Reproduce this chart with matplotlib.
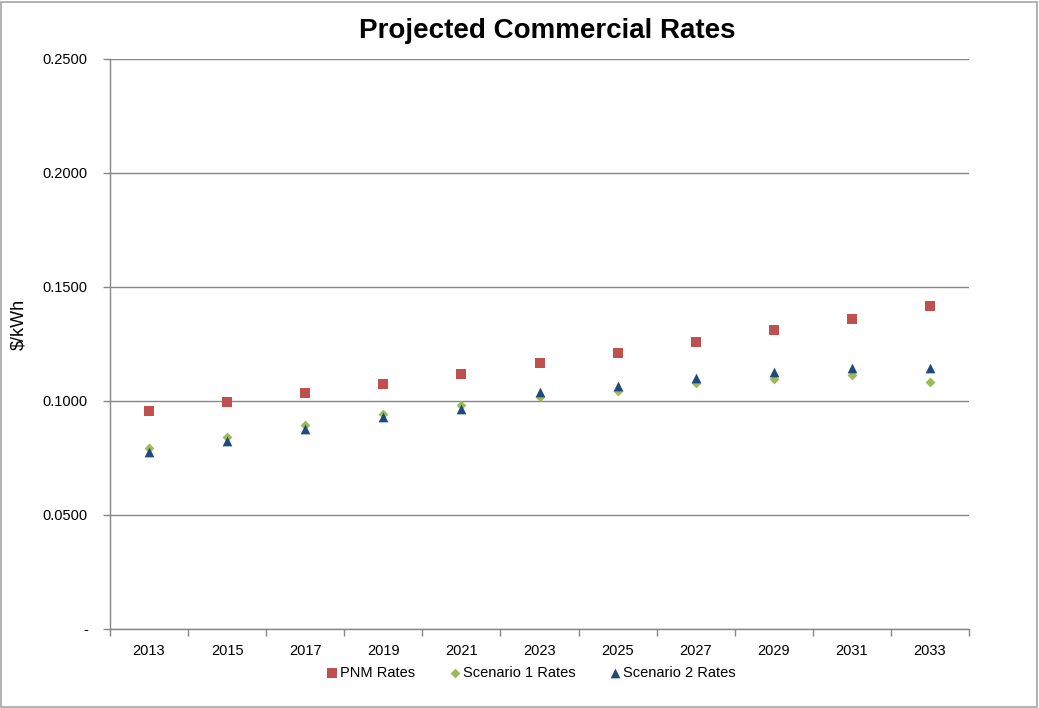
import matplotlib
matplotlib.use("Agg")
import matplotlib.pyplot as plt
from matplotlib.patches import Rectangle
from matplotlib.ticker import FixedLocator, FuncFormatter
import numpy as np

plt.rcParams['font.family'] = ['Liberation Sans', 'DejaVu Sans']

years = ["2013", "2015", "2017", "2019", "2021", "2023", "2025", "2027", "2029", "2031", "2033"]
pnm_rates = [0.0957, 0.0996, 0.1035, 0.1076, 0.1120, 0.1165, 0.1212, 0.1259, 0.1310, 0.1361, 0.1417]
scenario1_rates = [0.0795, 0.0842, 0.0893, 0.0943, 0.0982, 0.1016, 0.1045, 0.1079, 0.1096, 0.1115, 0.1082]
scenario2_rates = [0.0778, 0.0826, 0.0877, 0.0930, 0.0965, 0.1041, 0.1066, 0.1100, 0.1129, 0.1146, 0.1146]
yticks = [0.0, 0.05, 0.10, 0.15, 0.20, 0.25]

W, H = 1039, 708
fig = plt.figure(figsize=(W / 100, H / 100), dpi=100)
ax = fig.add_axes([110 / W, 1 - 629 / H, (969 - 110) / W, (629 - 59) / H])

x = np.arange(len(years))
grid_c = '#868686'

ax.scatter(x, pnm_rates, marker='s', s=7.2**2, color='#C0504D', label='PNM Rates', zorder=3, linewidths=0)
ax.scatter(x, scenario1_rates, marker='D', s=5.0**2, color='#9BBB59', label='Scenario 1 Rates', zorder=4, linewidths=0)
ax.scatter(x, scenario2_rates, marker='^', s=7.0**2, color='#1F497D', label='Scenario 2 Rates', zorder=5, linewidths=0)

ax.set_xlim(-0.5, len(years) - 0.5)
ax.set_ylim(0, 0.25)
ax.set_yticks(yticks)
ax.yaxis.set_major_formatter(FuncFormatter(lambda v, p: '-' if abs(v) < 1e-9 else f'{v:.4f}'))
ax.grid(axis='y', color=grid_c, linewidth=1.0, zorder=0)
ax.set_axisbelow(True)

ax.set_xticks(x)
ax.set_xticklabels(years)
ax.xaxis.set_minor_locator(FixedLocator(np.arange(-0.5, len(years), 1.0)))
ax.tick_params(axis='x', which='major', length=0, pad=11, labelsize=10.5, colors='black')
ax.tick_params(axis='x', which='minor', length=5, width=1, color=grid_c)
ax.tick_params(axis='y', which='major', length=5, width=1, color=grid_c, pad=11, labelsize=10.5)

for s in ['top', 'right']:
    ax.spines[s].set_visible(False)
for s in ['left', 'bottom']:
    ax.spines[s].set_color(grid_c)
    ax.spines[s].set_linewidth(1.0)

fig.text(547 / W, 1 - 38 / H, 'Projected Commercial Rates', fontsize=20, fontweight='bold',
         ha='center', va='baseline')
fig.text(19 / W, 1 - 324 / H, '\\$/kWh', rotation=90, ha='center', va='center', fontsize=13)

leg = fig.legend(loc='center', bbox_to_anchor=(530 / W, 1 - 673 / H), ncol=3, frameon=False,
                 fontsize=10.5, handletextpad=0.05, columnspacing=2.2, handlelength=1.0,
                 scatterpoints=1, borderaxespad=0)

fig.patches.append(Rectangle((1 / W, 1 / H), 1 - 3 / W, 1 - 3 / H, transform=fig.transFigure,
                             fill=False, edgecolor='#A6A6A6', linewidth=1.2, zorder=10))

fig.savefig('out.png', dpi=100)
